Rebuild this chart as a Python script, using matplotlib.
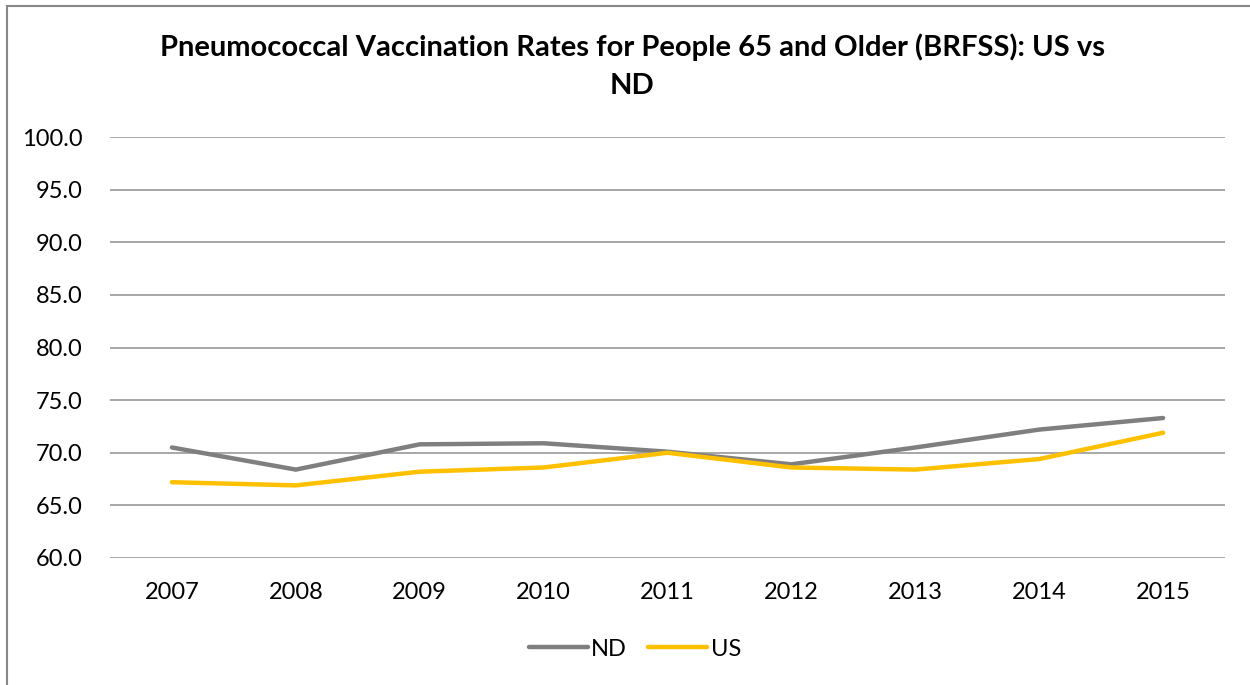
import matplotlib
matplotlib.use("Agg")
import matplotlib.pyplot as plt
from matplotlib.patches import Rectangle

years = ["2007", "2008", "2009", "2010", "2011", "2012", "2013", "2014", "2015"]
nd = [70.5, 68.4, 70.8, 70.9, 70.1, 68.9, 70.5, 72.2, 73.3]
us = [67.2, 66.9, 68.2, 68.6, 70.0, 68.6, 68.4, 69.4, 71.9]
yticks = [60, 65, 70, 75, 80, 85, 90, 95, 100]

plt.rcParams['font.family'] = ['Lato', 'DejaVu Sans']

fig = plt.figure(figsize=(12.5, 6.85), dpi=100)
ax = fig.add_axes([110/1250, 1 - 558/685, (1225-110)/1250, (558-137)/685])

x = list(range(len(years)))
ax.plot(x, nd, color="#7F7F7F", lw=3.2, solid_capstyle="round", label="ND", zorder=3)
ax.plot(x, us, color="#FFC000", lw=3.2, solid_capstyle="round", label="US", zorder=3)

ax.set_xlim(-0.5, len(years) - 0.5)
ax.set_ylim(60, 100)
ax.set_yticks(yticks)
ax.set_yticklabels([f"{v:.1f}" for v in yticks], fontsize=17)
ax.set_xticks(x)
ax.set_xticklabels(years, fontsize=17)
ax.tick_params(axis='y', length=0, pad=20)
ax.tick_params(axis='x', length=0, pad=17)
ax.grid(axis='y', color="#A0A0A0", lw=1.3)
ax.set_axisbelow(True)
for s in ax.spines.values():
    s.set_visible(False)

fig.text(632/1250, 1 - 47/685, "Pneumococcal Vaccination Rates for People 65 and Older (BRFSS): US vs",
         ha="center", va="center", fontsize=21, fontweight="bold")
fig.text(632/1250, 1 - 86/685, "ND", ha="center", va="center", fontsize=21, fontweight="bold")

fig.legend(loc="center", bbox_to_anchor=(635/1250, 1 - 649/685), ncol=2, frameon=False,
           fontsize=17, handlelength=2.5, handletextpad=0.15, columnspacing=0.9)

fig.patches.append(Rectangle((7/1250, -0.01), 1.02, 1 - 6/685 + 0.01, transform=fig.transFigure,
                             fill=False, edgecolor="#888888", lw=1.5))

fig.savefig("out.png", dpi=100, facecolor="white")
